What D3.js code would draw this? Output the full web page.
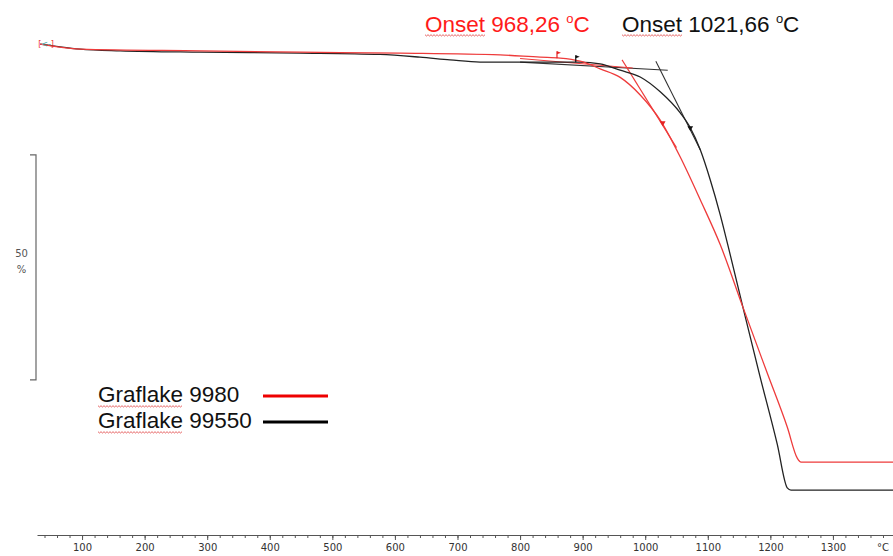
<!DOCTYPE html>
<html><head><meta charset="utf-8">
<script src="https://cdn.jsdelivr.net/npm/d3@7"></script>
<style>body{margin:0;background:#fff;} svg{display:block;}</style>
</head><body>
<svg id="c" width="893" height="556"></svg>
<script>
// ---- data (temperature °C, mass %) ----
const blackTemp = [33, 65, 97, 161, 289, 448, 576, 640, 688, 736, 864, 896, 928, 960, 992, 1024, 1056, 1072, 1088, 1104, 1120, 1136, 1156, 1183, 1211, 1227, 1233, 1396];
const blackMass = [100.2, 99.6, 99.1, 98.7, 98.4, 98.2, 97.9, 97.3, 96.7, 96.2, 96.2, 96.2, 95.8, 94.4, 92.9, 89.6, 84.9, 81.6, 76.7, 70.0, 62.2, 53.3, 41.8, 26.6, 11.3, 1.6, 1.1, 1.1];
const redTemp = [33, 97, 289, 448, 608, 768, 832, 864, 896, 928, 960, 992, 1024, 1056, 1088, 1120, 1156, 1195, 1227, 1243, 1249, 1396];
const redMass = [100.2, 99.1, 98.7, 98.4, 98.2, 97.8, 97.3, 97.1, 96.4, 94.7, 92.8, 88.9, 83.3, 75.1, 65.6, 55.6, 41.8, 27.1, 15.1, 8.2, 7.3, 7.3];

// tangent lines [T, mass] pairs
const blackBaseTangent = [[800, 96.2], [1036, 94.4]];
const blackSteepTangent = [[1017, 96.4], [1088, 76.7]];
const redBaseTangent = [[800, 97.0], [980, 94.9]];
const redSteepTangent = [[963, 96.7], [1050, 77.2]];

// markers [T, mass]
const redOnsetMark = [859, 97.3];
const blackOnsetMark = [889, 96.4];
const redInflMark = [1028, 82.7];
const blackInflMark = [1072, 81.6];

const majorTicks = [100, 200, 300, 400, 500, 600, 700, 800, 900, 1000, 1100, 1200, 1300];
const minorTicks = d3.range(40, 1396, 20);
const onsetValues = ["968,26", "1021,66"];
const legendLabels = ["Graflake 9980", "Graflake 99550"];
const seriesColors = ["#ee3b3b", "#222222"];
const scaleBarTop = 75.6, scaleBarSpan = 50;

const svg = d3.select("#c");
const x = d3.scaleLinear().domain([28, 1396]).range([37, 893]);
const y = d3.scaleLinear().domain([100, 0]).range([45, 495]);

// ---- x axis ----
svg.append("g").attr("transform", "translate(0,535)")
  .call(d3.axisBottom(x).tickValues(minorTicks).tickSize(3).tickSizeOuter(0).tickFormat(""));
const axMajor = svg.append("g").attr("transform", "translate(0,535)")
  .call(d3.axisBottom(x).tickValues(majorTicks).tickSize(5).tickSizeOuter(0).tickPadding(4).tickFormat(d3.format("d")));
axMajor.select(".domain").remove();
svg.selectAll(".domain, .tick line").attr("stroke", "#555").attr("stroke-width", 1);
axMajor.selectAll("text").attr("font-family", "DejaVu Sans, Verdana, sans-serif")
  .attr("font-size", 10).attr("fill", "#333");
svg.append("text").attr("x", 877).attr("y", 551).text("°C")
  .attr("font-family", "DejaVu Sans, sans-serif").attr("font-size", 10).attr("fill", "#333");

// ---- scale bar ----
const sbTop = y(scaleBarTop), sbBot = y(scaleBarTop - scaleBarSpan);
svg.append("path").attr("d", `M30,${sbTop}H36V${sbBot}H30`)
  .attr("fill", "none").attr("stroke", "#666").attr("stroke-width", 1.2);
const sbMid = (sbTop + sbBot) / 2;
svg.append("text").attr("x", 21.5).attr("y", sbMid - 10).attr("text-anchor", "middle")
  .attr("font-family", "DejaVu Sans, sans-serif").attr("font-size", 10).attr("fill", "#555").text(String(scaleBarSpan));
svg.append("text").attr("x", 21.5).attr("y", sbMid + 6).attr("text-anchor", "middle")
  .attr("font-family", "DejaVu Sans, sans-serif").attr("font-size", 10).attr("fill", "#555").text("%");

// ---- tangents ----
const lineXY = d3.line().x(d => x(d[0])).y(d => y(d[1]));
[[blackBaseTangent, "#333"], [blackSteepTangent, "#333"], [redBaseTangent, "#ee3b3b"], [redSteepTangent, "#ee3b3b"]]
  .forEach(([pts, c]) => svg.append("path").attr("d", lineXY(pts)).attr("fill", "none")
    .attr("stroke", c).attr("stroke-width", 1.1));

// ---- curves ----
const curve = d3.line().curve(d3.curveMonotoneX).x(d => x(d[0])).y(d => y(d[1]));
svg.append("path").attr("d", curve(blackTemp.map((t, i) => [t, blackMass[i]])))
  .attr("fill", "none").attr("stroke", seriesColors[1]).attr("stroke-width", 1.3);
svg.append("path").attr("d", curve(redTemp.map((t, i) => [t, redMass[i]])))
  .attr("fill", "none").attr("stroke", seriesColors[0]).attr("stroke-width", 1.3);

// ---- markers ----
function flag(pt, c) {
  const px = x(pt[0]), py = y(pt[1]);
  svg.append("path").attr("d", `M${px},${py + 1}V${py - 6}`).attr("stroke", c).attr("stroke-width", 1.2);
  svg.append("path").attr("d", `M${px},${py - 6}L${px + 4},${py - 4.5}L${px},${py - 3}Z`).attr("fill", c);
}
flag(redOnsetMark, "#e52222");
flag(blackOnsetMark, "#111");
function tri(pt, c) {
  svg.append("path").attr("d", d3.symbol(d3.symbolTriangle, 14)())
    .attr("transform", `translate(${x(pt[0])},${y(pt[1])}) rotate(180)`).attr("fill", c);
}
tri(redInflMark, "#e52222");
tri(blackInflMark, "#111");

// start marker
const sm = svg.append("text").attr("x", x(33) - 2).attr("y", y(100.2) + 3)
  .attr("font-family", "DejaVu Sans, sans-serif").attr("font-size", 8);
sm.append("tspan").attr("fill", "#e33").text("[");
sm.append("tspan").attr("fill", "#4aa").text("<-");
sm.append("tspan").attr("fill", "#e33").text("]");

// ---- squiggle helper ----
function squiggle(x0, x1, yy) {
  const pts = [];
  let k = 0;
  for (let xx = x0; xx <= x1; xx += 1.5, k++) pts.push([xx, yy + (k % 2 ? 1 : -0.3)]);
  svg.append("path").attr("d", d3.line()(pts)).attr("fill", "none")
    .attr("stroke", "#e04040").attr("stroke-width", 0.8);
}

// ---- onset labels ----
const FONT = "Liberation Sans, Arial, sans-serif";
function onsetLabel(x0, val, color) {
  const t = svg.append("text").attr("x", x0).attr("y", 32).attr("font-family", FONT)
    .attr("font-size", 22.5).attr("fill", color);
  t.append("tspan").text("Onset " + val + " ");
  t.append("tspan").attr("font-size", 13).attr("dy", -9).text("o");
  t.append("tspan").attr("dy", 9).text("C");
  const w = t.node().getSubStringLength(0, 5);
  squiggle(x0, x0 + w, 35);
}
onsetLabel(425, onsetValues[0], "#ff1a1a");
onsetLabel(622, onsetValues[1], "#111");

// ---- legend ----
const legBase = [402, 428];
legendLabels.forEach((lab, i) => {
  const t = svg.append("text").attr("x", 98).attr("y", legBase[i]).attr("font-family", FONT)
    .attr("font-size", 22.5).attr("fill", "#111").text(lab);
  const w = t.node().getSubStringLength(0, 8);
  squiggle(98, 98 + w, legBase[i] + 4);
  svg.append("line").attr("x1", 263).attr("x2", 328).attr("y1", legBase[i] - 6).attr("y2", legBase[i] - 6)
    .attr("stroke", i === 0 ? "#ee0000" : "#000").attr("stroke-width", 3);
});
</script></body></html>
